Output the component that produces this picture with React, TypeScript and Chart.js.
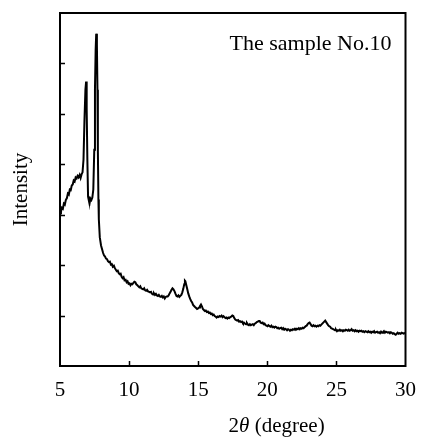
import React, { useEffect, useRef } from "react";
import { Chart, registerables } from "chart.js";

Chart.register(...registerables);

// 2θ (degree)
const twoTheta: number[] = [
  5.0, 5.07, 5.14, 5.21, 5.28, 5.35, 5.42, 5.5, 5.57, 5.64, 5.71, 5.78, 5.85, 5.92, 5.99, 6.06, 6.13, 6.2, 6.27, 6.34,
  6.42, 6.49, 6.56, 6.63, 6.7, 6.77, 6.84, 6.89, 6.93, 6.98, 7.03, 7.09, 7.15, 7.2, 7.27, 7.34, 7.41, 7.48, 7.53, 7.58,
  7.62, 7.67, 7.71, 7.74, 7.78, 7.81, 7.88, 7.97, 8.05, 8.12, 8.19, 8.26, 8.33, 8.4, 8.47, 8.54, 8.61, 8.68, 8.75, 8.82,
  8.9, 8.97, 9.04, 9.11, 9.18, 9.25, 9.32, 9.39, 9.46, 9.53, 9.6, 9.67, 9.75, 9.82, 9.89, 9.96, 10.03, 10.1, 10.17, 10.24,
  10.31, 10.38, 10.45, 10.52, 10.6, 10.67, 10.74, 10.81, 10.88, 10.95, 11.02, 11.09, 11.16, 11.23, 11.3, 11.37, 11.45, 11.52, 11.59, 11.66,
  11.73, 11.8, 11.87, 11.94, 12.01, 12.08, 12.15, 12.22, 12.3, 12.37, 12.44, 12.51, 12.58, 12.65, 12.72, 12.79, 12.86, 12.93, 13.0, 13.07,
  13.14, 13.21, 13.29, 13.36, 13.43, 13.5, 13.57, 13.64, 13.71, 13.78, 13.85, 13.92, 13.99, 14.04, 14.07, 14.14, 14.21, 14.28, 14.35, 14.42,
  14.49, 14.56, 14.63, 14.7, 14.77, 14.85, 14.92, 14.99, 15.06, 15.13, 15.2, 15.27, 15.34, 15.41, 15.48, 15.55, 15.62, 15.7, 15.77, 15.84,
  15.91, 15.98, 16.05, 16.12, 16.19, 16.26, 16.33, 16.4, 16.47, 16.54, 16.62, 16.69, 16.76, 16.83, 16.9, 16.97, 17.04, 17.11, 17.18, 17.25,
  17.32, 17.39, 17.47, 17.54, 17.61, 17.68, 17.75, 17.82, 17.89, 17.96, 18.03, 18.1, 18.17, 18.24, 18.32, 18.39, 18.46, 18.53, 18.6, 18.67,
  18.74, 18.81, 18.88, 18.95, 19.02, 19.09, 19.16, 19.24, 19.31, 19.38, 19.45, 19.52, 19.59, 19.66, 19.73, 19.8, 19.87, 19.94, 20.01, 20.08,
  20.16, 20.23, 20.3, 20.37, 20.44, 20.51, 20.58, 20.65, 20.72, 20.79, 20.86, 20.93, 21.01, 21.08, 21.15, 21.22, 21.29, 21.36, 21.43, 21.5,
  21.57, 21.64, 21.71, 21.78, 21.85, 21.93, 22.0, 22.07, 22.14, 22.21, 22.28, 22.35, 22.42, 22.49, 22.56, 22.63, 22.7, 22.78, 22.85, 22.92,
  22.99, 23.06, 23.13, 23.2, 23.27, 23.34, 23.41, 23.48, 23.55, 23.63, 23.7, 23.77, 23.84, 23.91, 23.98, 24.05, 24.12, 24.19, 24.26, 24.33,
  24.4, 24.47, 24.55, 24.62, 24.69, 24.76, 24.83, 24.9, 24.97, 25.04, 25.11, 25.18, 25.25, 25.32, 25.4, 25.47, 25.54, 25.61, 25.68, 25.75,
  25.82, 25.89, 25.96, 26.03, 26.1, 26.17, 26.25, 26.32, 26.39, 26.46, 26.53, 26.6, 26.67, 26.74, 26.81, 26.88, 26.95, 27.02, 27.1, 27.17,
  27.24, 27.31, 27.38, 27.45, 27.52, 27.59, 27.66, 27.73, 27.8, 27.87, 27.95, 28.02, 28.09, 28.16, 28.23, 28.3, 28.37, 28.44, 28.51, 28.58,
  28.65, 28.72, 28.8, 28.87, 28.94, 29.01, 29.08, 29.15, 29.22, 29.29, 29.36, 29.43, 29.5, 29.57, 29.65, 29.72, 29.79, 29.86, 29.93, 30.0,
];

// Intensity (arbitrary units)
const intensity: number[] = [
  3080, 3060, 3140, 3120, 3220, 3200, 3290, 3330, 3420, 3400, 3500, 3490, 3580, 3600, 3680, 3660, 3740, 3720, 3770, 3740,
  3790, 3730, 3800, 3840, 4090, 4880, 5480, 5640, 5100, 4090, 3360, 3280, 3240, 3320, 3290, 3340, 3500, 4290, 5480, 6270,
  6590, 6370, 5480, 4290, 3300, 2910, 2550, 2390, 2310, 2240, 2190, 2170, 2130, 2120, 2080, 2060, 2070, 2010, 2020, 1970,
  1990, 1940, 1910, 1880, 1890, 1840, 1820, 1830, 1770, 1740, 1760, 1700, 1710, 1660, 1680, 1630, 1640, 1600, 1630, 1620,
  1650, 1670, 1660, 1620, 1600, 1580, 1560, 1580, 1540, 1530, 1520, 1540, 1500, 1490, 1510, 1480, 1470, 1460, 1470, 1430,
  1420, 1440, 1410, 1430, 1400, 1390, 1410, 1380, 1370, 1390, 1360, 1380, 1340, 1370, 1380, 1380, 1400, 1440, 1470, 1510,
  1540, 1520, 1480, 1430, 1390, 1380, 1400, 1370, 1390, 1410, 1460, 1530, 1620, 1690, 1680, 1600, 1520, 1440, 1380, 1330,
  1290, 1260, 1210, 1190, 1170, 1150, 1130, 1140, 1160, 1190, 1220, 1180, 1130, 1110, 1090, 1100, 1070, 1080, 1050, 1060,
  1030, 1040, 1010, 1020, 990, 980, 960, 980, 970, 990, 980, 1000, 970, 990, 970, 950, 960, 940, 960, 950,
  970, 980, 1000, 990, 950, 920, 910, 900, 910, 880, 890, 870, 880, 850, 860, 840, 830, 850, 820, 810,
  830, 810, 820, 830, 810, 840, 850, 870, 880, 890, 890, 860, 850, 860, 830, 840, 810, 800, 790, 810,
  790, 780, 800, 770, 780, 760, 780, 770, 750, 760, 740, 750, 760, 730, 750, 720, 740, 730, 710, 730,
  720, 700, 720, 710, 730, 720, 740, 720, 740, 730, 750, 730, 750, 740, 760, 750, 770, 790, 800, 830,
  850, 860, 830, 800, 790, 810, 790, 800, 780, 800, 790, 810, 800, 820, 840, 860, 880, 900, 870, 840,
  810, 790, 780, 750, 740, 730, 720, 710, 720, 690, 710, 700, 720, 700, 710, 690, 710, 700, 720, 710,
  700, 720, 700, 710, 730, 700, 710, 690, 710, 690, 700, 680, 700, 690, 700, 680, 690, 670, 690, 680,
  670, 690, 670, 680, 660, 680, 670, 690, 660, 670, 680, 660, 670, 650, 680, 660, 670, 690, 660, 680,
  670, 660, 670, 650, 670, 660, 640, 650, 630, 620, 640, 660, 640, 650, 640, 660, 650, 640, 650, 640,
];

const xTickValues: number[] = [5, 10, 15, 20, 25, 30];
const xInnerTicks: number[] = [10, 15, 20, 25];
const yInnerTicks: number[] = [1000, 2000, 3000, 4000, 5000, 6000];
const sampleLabel = "The sample No.10";
const yTitle = "Intensity";
const xTitleParts = ["2", "\u03B8", " (degree)"];

const SERIF = "'Liberation Serif', 'Times New Roman', serif";

const decor = {
  id: "decor",
  afterDraw(chart: any) {
    const { ctx, chartArea } = chart;
    const { left, right, top, bottom } = chartArea;
    const x = chart.scales.x;
    const y = chart.scales.y;
    ctx.save();
    ctx.strokeStyle = "#000";
    ctx.lineWidth = 2;
    ctx.strokeRect(left, top, right - left, bottom - top);

    ctx.lineWidth = 1.5;
    ctx.beginPath();
    for (const v of xInnerTicks) {
      const px = Math.round(x.getPixelForValue(v)) + 0.5;
      ctx.moveTo(px, bottom);
      ctx.lineTo(px, bottom - 5);
    }
    for (const v of yInnerTicks) {
      const py = Math.round(y.getPixelForValue(v)) + 0.5;
      ctx.moveTo(left, py);
      ctx.lineTo(left + 5, py);
    }
    ctx.stroke();

    ctx.fillStyle = "#000";
    // sample label
    ctx.font = `22px ${SERIF}`;
    ctx.textAlign = "right";
    ctx.textBaseline = "alphabetic";
    ctx.fillText(sampleLabel, right - 14, top + 37);

    // y title
    ctx.save();
    ctx.translate(27, (top + bottom) / 2);
    ctx.rotate(-Math.PI / 2);
    ctx.textAlign = "center";
    ctx.textBaseline = "alphabetic";
    ctx.font = `21px ${SERIF}`;
    ctx.fillText(yTitle, 0, 0);
    ctx.restore();

    // x title with italic theta
    const fonts = [`21px ${SERIF}`, `italic 21px ${SERIF}`, `21px ${SERIF}`];
    let total = 0;
    const widths: number[] = [];
    xTitleParts.forEach((t, i) => {
      ctx.font = fonts[i];
      const w = ctx.measureText(t).width;
      widths.push(w);
      total += w;
    });
    const cx = left + (right - left) * 0.627;
    let sx = cx - total / 2;
    ctx.textAlign = "left";
    const baseY = bottom + 66;
    xTitleParts.forEach((t, i) => {
      ctx.font = fonts[i];
      ctx.fillText(t, sx, baseY);
      sx += widths[i];
    });
    ctx.restore();
  },
};

export default function App() {
  const canvasRef = useRef<HTMLCanvasElement | null>(null);

  useEffect(() => {
    if (!canvasRef.current) return;
    const chart = new Chart(canvasRef.current, {
      type: "line",
      data: {
        datasets: [
          {
            data: twoTheta.map((t, i) => ({ x: t, y: intensity[i] })),
            borderColor: "#000",
            borderWidth: 2,
            pointRadius: 0,
            tension: 0,
            fill: false,
          },
        ],
      },
      options: {
        animation: false,
        responsive: false,
        devicePixelRatio: 1,
        layout: { padding: { top: 13, right: 15, bottom: 0, left: 0 } },
        plugins: { legend: { display: false }, tooltip: { enabled: false }, title: { display: false } },
        scales: {
          x: {
            type: "linear",
            min: 5,
            max: 30,
            afterBuildTicks: (scale: any) => {
              scale.ticks = xTickValues.map((v) => ({ value: v }));
            },
            afterFit: (scale: any) => {
              scale.height = 72;
            },
            grid: { display: false, drawTicks: false },
            border: { display: false },
            ticks: {
              color: "#000",
              padding: 12,
              maxRotation: 0,
              autoSkip: false,
              font: { family: SERIF, size: 21 },
            },
          },
          y: {
            type: "linear",
            min: 0,
            max: 7000,
            afterFit: (scale: any) => {
              scale.width = 60;
            },
            grid: { display: false, drawTicks: false },
            border: { display: false },
            ticks: { display: false },
          },
        },
      },
      plugins: [decor],
    });
    return () => chart.destroy();
  }, []);

  return (
    <div style={{ position: "absolute", left: 0, top: 0, width: 428, height: 438, background: "#fff" }}>
      <canvas ref={canvasRef} width={428} height={438} style={{ display: "block" }} />
    </div>
  );
}
